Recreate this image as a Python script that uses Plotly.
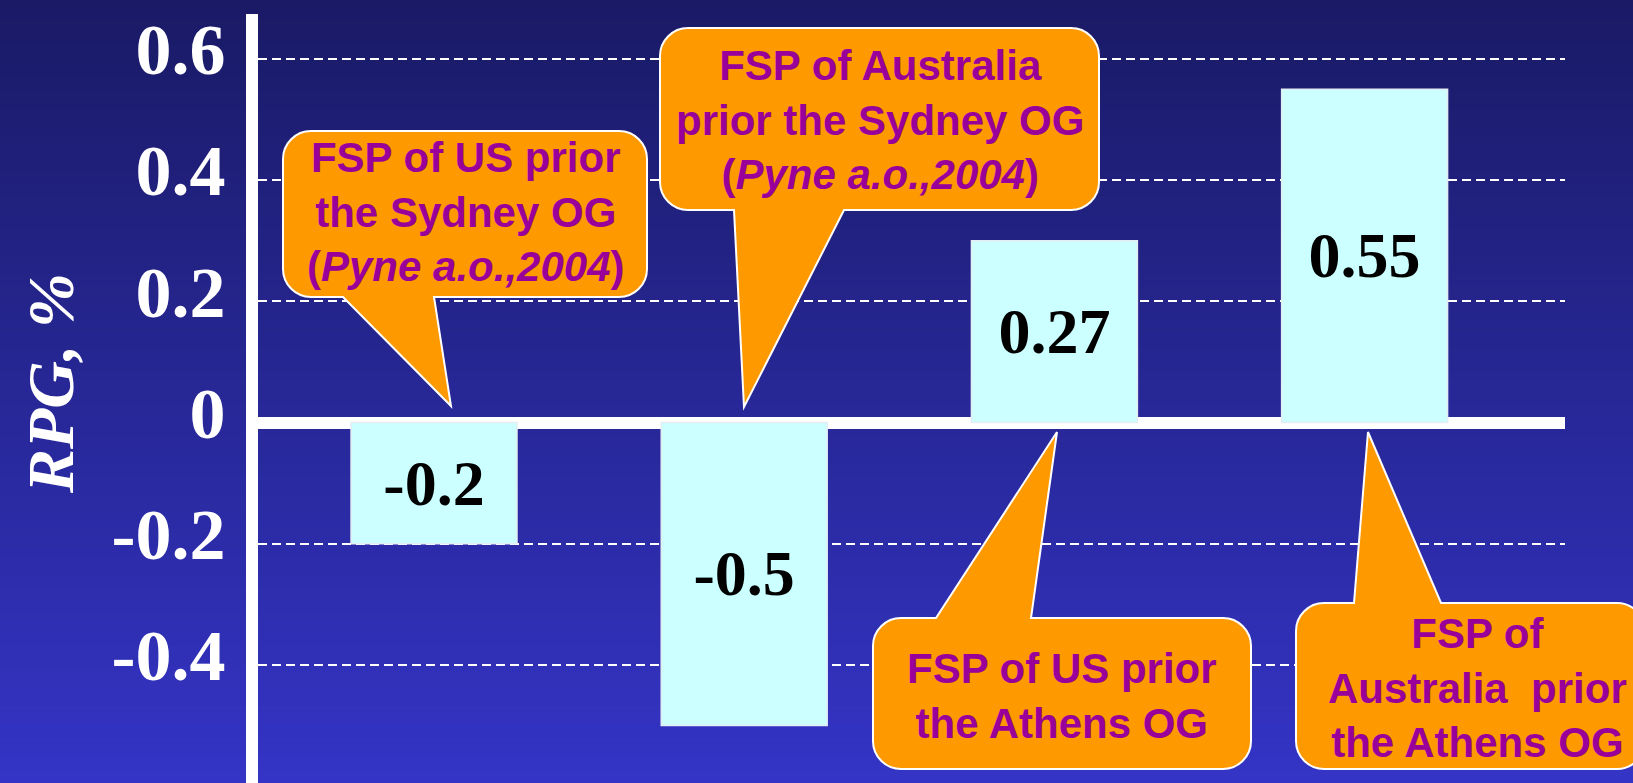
import plotly.graph_objects as go

# ---------------- data ----------------
categories = ["FSP of US prior the Sydney OG", "FSP of Australia prior the Sydney OG",
              "FSP of US prior the Athens OG", "FSP of Australia prior the Athens OG"]
rpg_values = [-0.2, -0.5, 0.30, 0.55]          # bar heights as drawn
rpg_labels = ["-0.2", "-0.5", "0.27", "0.55"]  # printed labels
tick_vals = [-0.4, -0.2, 0, 0.2, 0.4, 0.6]
tick_text = ["-0.4", "-0.2", "0", "0.2", "0.4", "0.6"]
callout_texts = [
    "<b>FSP of US prior<br>the Sydney OG<br>(<i>Pyne a.o.,2004</i>)</b>",
    "<b>FSP of Australia<br>prior the Sydney OG<br>(<i>Pyne a.o.,2004</i>)</b>",
    "<b>FSP of US prior<br>the Athens OG</b>",
    "<b>FSP of<br>Australia\u00a0 prior<br>the Athens OG</b>",
]
y_title = "<b><i>RPG, %</i></b>"

# ---------------- layout geometry ----------------
W, H = 1633, 783
L, R, T, B = 258, 68, 14, 0
PW, PH = W - L - R, H - T - B
YMAX, YMIN = 0.6741, -0.5949
XMIN, XMAX = -0.5674, 3.646

def fx(px):
    return (px - L) / PW

def fy(py):
    return 1 - (py - T) / PH

# callout geometry in pixels: box (x0,y0,x1,y1), pointer side, base x-range, tip
callouts = [
    dict(box=(283, 131, 647, 297), side="bottom", base=(343, 434), tip=(451, 406), text=(466, 212)),
    dict(box=(660, 28, 1099, 210), side="bottom", base=(734, 844), tip=(744, 407), text=(880, 120)),
    dict(box=(873, 618, 1251, 769), side="top", base=(936, 1031), tip=(1057, 432), text=(1062, 696)),
    dict(box=(1296, 603, 1645, 769), side="top", base=(1354, 1441), tip=(1368, 432), text=(1477, 688)),
]

def P(x, y):
    return f"{fx(x):.5f},{fy(y):.5f}"

def callout_path(box, side, base, tip, r=28):
    x0, y0, x1, y1 = box
    k = 0.5523 * r
    d = [f"M {P(x0 + r, y0)}"]
    if side == "top":
        d += [f"L {P(base[0], y0)}", f"L {P(*tip)}", f"L {P(base[1], y0)}"]
    d += [f"L {P(x1 - r, y0)}",
          f"C {P(x1 - r + k, y0)} {P(x1, y0 + r - k)} {P(x1, y0 + r)}",
          f"L {P(x1, y1 - r)}",
          f"C {P(x1, y1 - r + k)} {P(x1 - r + k, y1)} {P(x1 - r, y1)}"]
    if side == "bottom":
        d += [f"L {P(base[1], y1)}", f"L {P(*tip)}", f"L {P(base[0], y1)}"]
    d += [f"L {P(x0 + r, y1)}",
          f"C {P(x0 + r - k, y1)} {P(x0, y1 - r + k)} {P(x0, y1 - r)}",
          f"L {P(x0, y0 + r)}",
          f"C {P(x0, y0 + r - k)} {P(x0 + r - k, y0)} {P(x0 + r, y0)}", "Z"]
    return " ".join(d)

# ---------------- figure ----------------
fig = go.Figure()
fig.add_trace(go.Bar(
    x=list(range(len(categories))), y=rpg_values, text=rpg_labels,
    hovertext=categories, width=0.535,
    marker=dict(color="#CCFFFF", line=dict(color="#E4ECF4", width=1.5)),
    textposition="inside", insidetextanchor="middle", constraintext="none", textangle=0,
    textfont=dict(family="Times New Roman, Liberation Serif, serif", size=64, color="black", weight="bold"),
))

shapes = []
# gradient background
N = 120
top, bot = (26, 26, 102), (52, 52, 198)
for i in range(N):
    t = i / (N - 1)
    c = tuple(round(top[j] + (bot[j] - top[j]) * t) for j in range(3))
    y0 = H * i / N
    y1 = H * (i + 1.6) / N
    shapes.append(dict(type="rect", xref="paper", yref="paper", layer="below",
                       x0=fx(0), x1=fx(W), y0=fy(min(y1, H)), y1=fy(y0),
                       fillcolor=f"rgb{c}", line=dict(width=0)))
for co in callouts:
    shapes.append(dict(type="path", xref="paper", yref="paper", layer="above",
                       path=callout_path(co["box"], co["side"], co["base"], co["tip"]),
                       fillcolor="#FF9900", line=dict(color="white", width=2)))

annotations = []
for co, txt in zip(callouts, callout_texts):
    annotations.append(dict(xref="paper", yref="paper", x=fx(co["text"][0]), y=fy(co["text"][1]),
                            text=txt, showarrow=False, xanchor="center", yanchor="middle",
                            font=dict(family="Arial, Liberation Sans, sans-serif", size=42, color="#990099")))
annotations.append(dict(xref="paper", yref="paper", x=fx(50), y=fy(384), text=y_title, textangle=-90,
                        showarrow=False, xanchor="center", yanchor="middle",
                        font=dict(family="Times New Roman, Liberation Serif, serif", size=66, color="white")))

fig.update_layout(
    width=W, height=H, margin=dict(l=L, r=R, t=T, b=B, pad=0),
    paper_bgcolor="#1a1a66", plot_bgcolor="rgba(0,0,0,0)",
    showlegend=False, shapes=shapes, annotations=annotations,
    xaxis=dict(range=[XMIN, XMAX], showgrid=False, zeroline=False, showline=False,
               showticklabels=False, ticks="", fixedrange=True),
    yaxis=dict(range=[YMIN, YMAX], tickvals=tick_vals, ticktext=tick_text,
               showgrid=True, gridcolor="white", gridwidth=2, griddash="9px,5px",
               zeroline=True, zerolinecolor="white", zerolinewidth=12,
               showline=True, linecolor="white", linewidth=12, ticks="",
               ticklabelshift=-10, ticklabelstandoff=6,
               tickfont=dict(family="Times New Roman, Liberation Serif, serif", size=72,
                             color="white", weight="bold")),
)

fig.write_html("out.html", config={"displayModeBar": False},
               post_script="document.body.style.margin='0';document.body.style.overflow='hidden';")
